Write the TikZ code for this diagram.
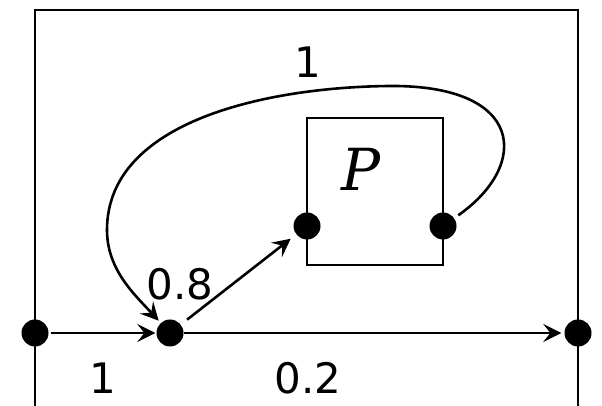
\documentclass[tikz,border=0pt]{standalone}
\usepackage{fontspec}
\setmainfont{DejaVu Sans}
\newfontfamily\pfont{DejaVu Serif}
\usetikzlibrary{arrows.meta}
\begin{document}
\begin{tikzpicture}[x=1pt,y=1pt,
  ln/.style={line width=2.6pt},
  arr/.style={ln,-{Stealth[length=18pt,width=18pt,inset=7pt]}},
  dotnode/.style={circle,fill=black,inner sep=0pt,minimum size=27pt},
  lbl/.style={inner sep=0pt,font=\fontsize{42}{50}\selectfont}]
\useasboundingbox (0,0) rectangle (602,406);
% outer frame (open at bottom)
\draw[ln] (35,-5) -- (35,396) -- (578,396) -- (578,-5);
% inner box P
\draw[ln] (307,141) rectangle (443,288);
% points
\coordinate (A) at (35,73);
\coordinate (B) at (170,73);
\coordinate (C) at (578,73);
\coordinate (D) at (307,180);
\coordinate (E) at (443,180);
\node[dotnode] (a) at (A) {};
\node[dotnode] (b) at (B) {};
\node[dotnode] (c) at (C) {};
\node[dotnode] (d) at (D) {};
\node[dotnode] (e) at (E) {};
% connectors
\draw[arr,shorten <=2pt,shorten >=1pt] (a) -- (b);
\draw[arr,shorten >=3pt] (b) -- (c);
\draw[arr,shorten <=8pt,shorten >=7pt] (b) -- (d);
\draw[arr,shorten <=5pt,shorten >=3pt] (e) .. controls (530,241) and (525,321) .. (390,320)
   .. controls (270,319) and (107,286) .. (107,176)
   .. controls (107,136) and (135,111) .. (b);
% labels
\node[lbl] (l1) at (308,344) {1};
\node[lbl] (l08) at (180,122) {0.8};
\node[lbl] (l1b) at (103,28) {1};
\node[lbl] (l02) at (308,28) {0.2};
\node[inner sep=0pt,font=\fontsize{58}{62}\selectfont\pfont\itshape] (lp) at (361,237) {P};
\end{tikzpicture}
\end{document}
